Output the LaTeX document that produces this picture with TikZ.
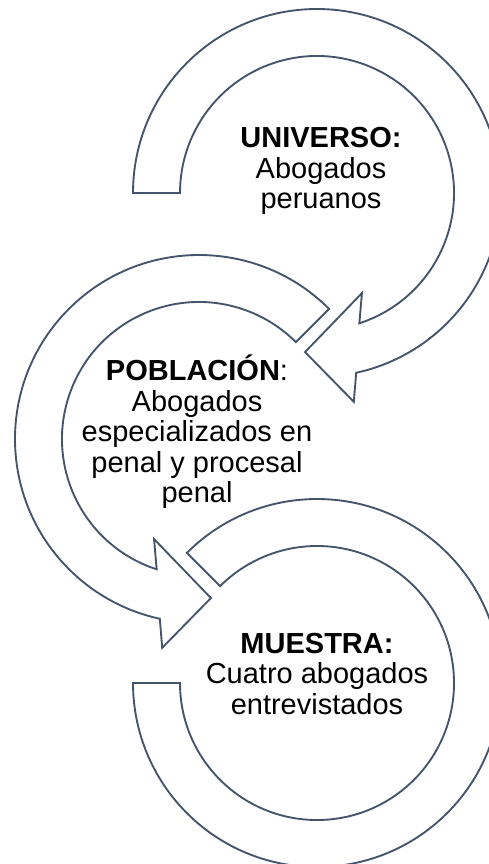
\documentclass[tikz,border=0pt]{standalone}
\usepackage{fontspec}
\setmainfont{Liberation Sans}
\usetikzlibrary{calc}
\definecolor{rim}{HTML}{44546A}

\begin{document}
\begin{tikzpicture}[x=0.75pt,y=0.75pt]
  \tikzset{
  ring/.style={draw=rim,fill=white,line width=1.4pt,line join=miter},
  lbl/.style={align=center,inner sep=0pt,font=\fontsize{21.75}{22.9}\selectfont},
  }
  \useasboundingbox (0,0) rectangle (489,-864);
  % the centres of the rings
  \coordinate (c1) at (317,-193);
  \coordinate (c2) at (199,-439);
  \coordinate (c3) at (317,-683);

  % the arrows
  \draw[ring] ($(c1)+(180:184)$) arc[start angle=180,end angle=-77.7,radius=184]
    -- ($(c1)+(-80:212)$) -- ($(c1)+(-94.3:159.5)$) -- ($(c1)+(-65.8:109.7)$)
    -- ($(c1)+(-72:137)$) arc[start angle=-72,end angle=180,radius=137] -- cycle;
  \draw[ring] ($(c2)+(45:184)$) arc[start angle=45,end angle=257.7,radius=184]
    -- ($(c2)+(-100:212)$) -- ($(c2)+(-85.7:159.5)$) -- ($(c2)+(-114.2:109.7)$)
    -- ($(c2)+(-108:137)$) arc[start angle=252,end angle=45,radius=137] -- cycle;
  \draw[ring] ($(c3)+(135:184)$) arc[start angle=135,end angle=-180,radius=184]
    -- ($(c3)+(180:137)$) arc[start angle=-180,end angle=135,radius=137] -- cycle;

  % the texts
  \node[lbl] (universo) at (321,-171) {\textbf{UNIVERSO:}\\Abogados\\peruanos};
  \node[lbl] (poblacion) at (197,-432) {\textbf{POBLACIÓN}:\\Abogados\\especializados en\\penal y procesal\\penal};
  \node[lbl] (muestra) at (317,-674) {\textbf{MUESTRA:}\\Cuatro abogados\\entrevistados};
\end{tikzpicture}
\end{document}
